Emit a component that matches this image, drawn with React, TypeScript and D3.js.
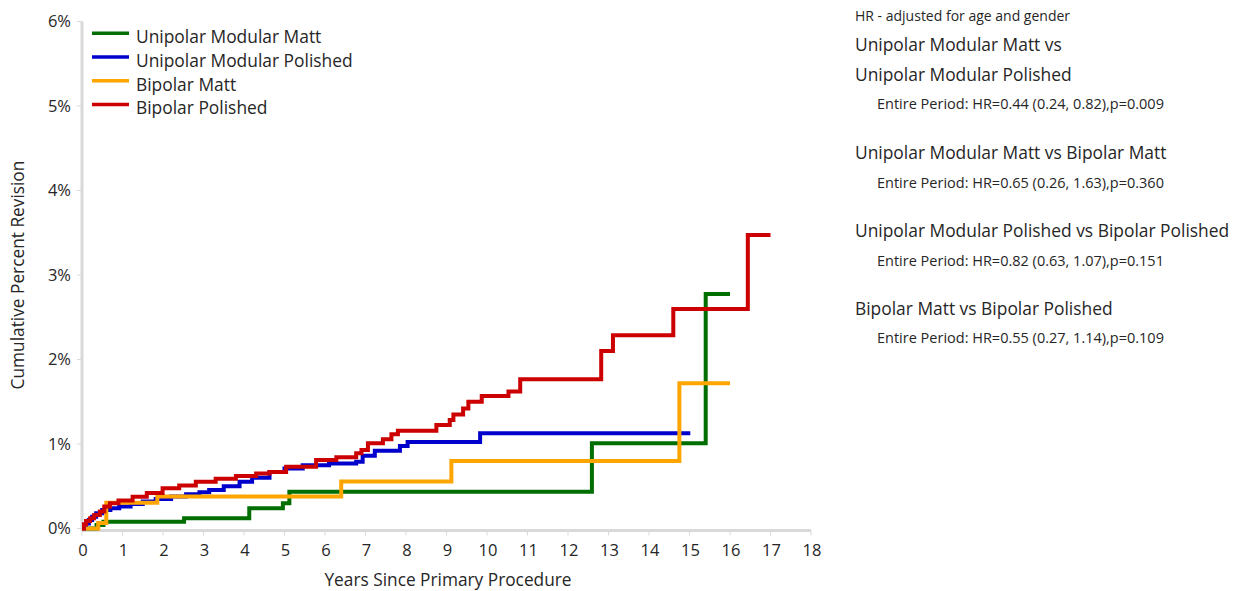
import React from "react";
import * as d3 from "d3";

const seriesNames = ["Unipolar Modular Matt", "Unipolar Modular Polished", "Bipolar Matt", "Bipolar Polished"];
const seriesColors = ["#006e00", "#0000cc", "#ffa500", "#cc0000"];

const unipolarMatt: [number, number][] = [[0,0],[0.36,0.04],[0.53,0.08],[2.52,0.12],[4.13,0.24],[4.96,0.3],[5.12,0.435],[12.59,1.01],[15.4,2.775],[16.0,2.775]];
const unipolarPolished: [number, number][] = [[0,0],[0.05,0.03],[0.1,0.06],[0.17,0.1],[0.25,0.14],[0.35,0.18],[0.5,0.22],[0.7,0.24],[0.92,0.26],[1.2,0.29],[1.5,0.32],[1.82,0.35],[2.2,0.38],[2.57,0.405],[2.9,0.43],[3.14,0.455],[3.5,0.5],[3.89,0.554],[4.2,0.6],[4.63,0.67],[5.0,0.71],[5.45,0.75],[6.1,0.77],[6.77,0.79],[6.93,0.86],[7.23,0.92],[7.85,0.976],[8.04,1.024],[9.83,1.127],[15.02,1.127]];
const bipolarMatt: [number, number][] = [[0,0],[0.4,0.065],[0.6,0.305],[1.86,0.38],[6.4,0.556],[9.12,0.8],[14.75,1.72],[16.0,1.72]];
const bipolarPolished: [number, number][] = [[0,0],[0.05,0.05],[0.1,0.09],[0.2,0.12],[0.3,0.16],[0.44,0.2],[0.55,0.26],[0.69,0.3],[0.9,0.33],[1.25,0.376],[1.6,0.42],[1.99,0.476],[2.4,0.51],[2.81,0.554],[3.3,0.59],[3.8,0.62],[4.3,0.65],[4.63,0.67],[5.04,0.73],[5.78,0.81],[6.28,0.843],[6.77,0.89],[6.9,0.93],[7.06,1.01],[7.43,1.055],[7.64,1.115],[7.8,1.157],[8.75,1.225],[9.08,1.284],[9.17,1.35],[9.41,1.42],[9.54,1.5],[9.87,1.568],[10.53,1.62],[10.82,1.766],[12.82,2.1],[13.11,2.286],[14.6,2.598],[16.44,3.473],[17.0,3.473]];
const allSeries = [unipolarMatt, unipolarPolished, bipolarMatt, bipolarPolished];

const xTicks = d3.range(0, 19);
const yTicks = [0, 1, 2, 3, 4, 5, 6];

const hrHeader = "HR - adjusted for age and gender";
const comparisons: { title: string[]; stat: string }[] = [
  { title: ["Unipolar Modular Matt vs", "Unipolar Modular Polished"], stat: "Entire Period: HR=0.44 (0.24, 0.82),p=0.009" },
  { title: ["Unipolar Modular Matt vs Bipolar Matt"], stat: "Entire Period: HR=0.65 (0.26, 1.63),p=0.360" },
  { title: ["Unipolar Modular Polished vs Bipolar Polished"], stat: "Entire Period: HR=0.82 (0.63, 1.07),p=0.151" },
  { title: ["Bipolar Matt vs Bipolar Polished"], stat: "Entire Period: HR=0.55 (0.27, 1.14),p=0.109" },
];

const FONT = "'Open Sans', 'Noto Sans', sans-serif";
const TXT = "#262626";

export default function App() {
  const x = d3.scaleLinear().domain([0, 18]).range([82, 811]);
  const y = d3.scaleLinear().domain([0, 6]).range([528.5, 21.5]);
  const line = d3.line<[number, number]>().x(d => x(d[0])).y(d => y(d[1])).curve(d3.curveStepAfter);

  const rightItems: JSX.Element[] = [];
  rightItems.push(<text key="hdr" x={855} y={16} dy="0.35em" fontSize={14} fill={TXT}>{hrHeader}</text>);
  const titleY = [[45, 75], [153], [231], [309]];
  const statY = [104, 183, 261, 338];
  comparisons.forEach((c, i) => {
    c.title.forEach((t, j) => {
      rightItems.push(<text key={`t${i}-${j}`} x={855} y={titleY[i][j]} dy="0.35em" fontSize={17.4} fill={TXT}>{t}</text>);
    });
    rightItems.push(<text key={`s${i}`} x={877} y={statY[i]} dy="0.35em" fontSize={14.5} fill={TXT}>{c.stat}</text>);
  });

  return (
    <svg width={1233} height={591} style={{ position: "absolute", left: 0, top: 0, background: "#fff" }} fontFamily={FONT}>
      <rect width={1233} height={591} fill="#fff" />
      <line x1={x(0)} x2={x(0)} y1={y(6)} y2={y(0) + 2} stroke="#d9d9d9" strokeWidth={3} />
      <line x1={x(0)} x2={x(18)} y1={y(0) + 2} y2={y(0) + 2} stroke="#d9d9d9" strokeWidth={3} />
      {yTicks.map(t => (
        <g key={`y${t}`}>
          <line x1={x(0) - 5} x2={x(0)} y1={y(t)} y2={y(t)} stroke="#d9d9d9" strokeWidth={1} />
          <text x={71} y={y(t)} dy="0.35em" textAnchor="end" fontSize={16.5} fill={TXT}>{`${t}%`}</text>
        </g>
      ))}
      {xTicks.map(t => (
        <g key={`x${t}`}>
          <line x1={x(t)} x2={x(t)} y1={y(0) + 2} y2={y(0) + 7} stroke="#d9d9d9" strokeWidth={1} />
          <text x={x(t) + 1} y={y(0) + 22} dy="0.35em" textAnchor="middle" fontSize={16.5} fill={TXT}>{t}</text>
        </g>
      ))}
      <text x={448} y={580} dy="0.35em" textAnchor="middle" fontSize={17.3} fill={TXT}>Years Since Primary Procedure</text>
      <text transform={`translate(18,${y(3)}) rotate(-90)`} dy="0.35em" textAnchor="middle" fontSize={17.3} fill={TXT}>Cumulative Percent Revision</text>
      {allSeries.map((s, i) => (
        <path key={`l${i}`} d={line(s) || ""} fill="none" stroke={seriesColors[i]} strokeWidth={4} strokeLinejoin="miter" />
      ))}
      {seriesNames.map((n, i) => {
        const ly = 33.3 + i * 23.7;
        return (
          <g key={`lg${i}`}>
            <line x1={92} x2={129} y1={ly} y2={ly} stroke={seriesColors[i]} strokeWidth={3.5} />
            <text x={136} y={ly + 4} dy="0.35em" fontSize={17.4} fill={TXT}>{n}</text>
          </g>
        );
      })}
      {rightItems}
    </svg>
  );
}
